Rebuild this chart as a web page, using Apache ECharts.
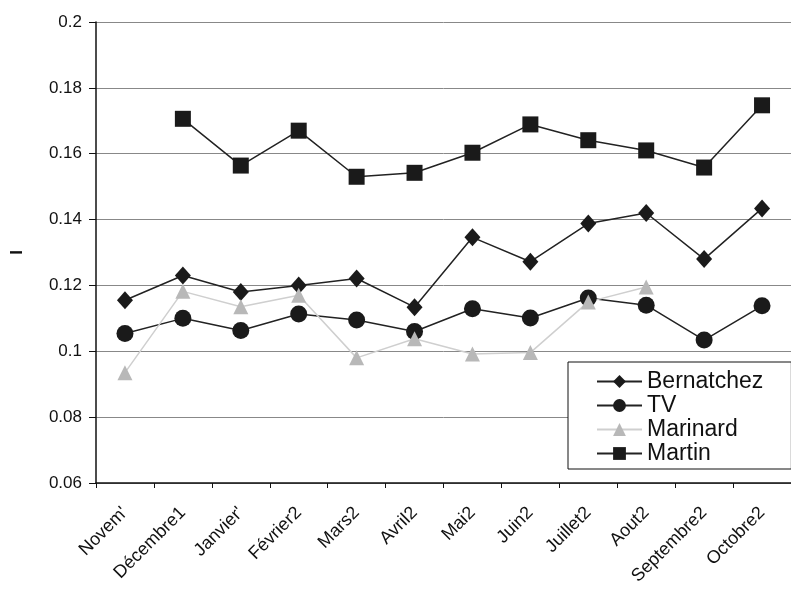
<!DOCTYPE html>
<html>
<head>
<meta charset="utf-8">
<script src="https://cdn.jsdelivr.net/npm/echarts@6/dist/echarts.min.js"></script>
<style>html,body{margin:0;padding:0;background:#fff}#c{width:791px;height:590px}</style>
</head>
<body>
<div id="c"></div>
<script>
var categories = ["Novem'", "Décembre1", "Janvier'", "Février2", "Mars2", "Avril2", "Mai2", "Juin2", "Juillet2", "Aout2", "Septembre2", "Octobre2"];
var bernatchez = [0.1155, 0.1230, 0.1180, 0.1200, 0.1221, 0.1134, 0.1346, 0.1272, 0.1388, 0.1420, 0.1280, 0.1434];
var tv = [0.1054, 0.1100, 0.1063, 0.1113, 0.1095, 0.1060, 0.1129, 0.1101, 0.1162, 0.1140, 0.1034, 0.1138];
var marinard = [0.0935, 0.1182, 0.1135, 0.1170, 0.0980, 0.1038, 0.0992, 0.0996, 0.1150, 0.1195, null, null];
var martin = [null, 0.1706, 0.1564, 0.1670, 0.1530, 0.1542, 0.1603, 0.1689, 0.1641, 0.1610, 0.1558, 0.1747];
var yTicks = {min: 0.06, max: 0.2, step: 0.02};

var chart = echarts.init(document.getElementById('c'), null, {renderer: 'canvas'});
var font = 'Liberation Sans, Arial, sans-serif';
function s(name, data, symbol, size, lineColor, symColor) {
  return {
    name: name, type: 'line', data: data, symbol: symbol, symbolSize: size,
    showAllSymbol: true, connectNulls: false,
    lineStyle: {color: lineColor, width: 1.5},
    itemStyle: {color: symColor, borderWidth: 0},
    emphasis: {disabled: true}, animation: false
  };
}
chart.setOption({
  animation: false,
  backgroundColor: '#fff',
  grid: {left: 96, top: 22, bottom: 107, right: -9, containLabel: false},
  xAxis: {
    type: 'category', data: categories, boundaryGap: true,
    axisLine: {lineStyle: {color: '#111', width: 1.5}},
    axisTick: {show: true, length: 5, lineStyle: {color: '#111'}},
    axisLabel: {rotate: 45, fontSize: 18, color: '#111', fontFamily: font, margin: 27, interval: 0},
    splitLine: {show: false}
  },
  yAxis: {
    type: 'value', min: yTicks.min, max: yTicks.max, interval: yTicks.step,
    name: 'I', nameLocation: 'middle', nameGap: 70, nameRotate: 90,
    nameTextStyle: {fontSize: 17, fontWeight: 'bold', color: '#111', fontFamily: font},
    axisLine: {show: true, lineStyle: {color: '#111', width: 1.5}},
    axisTick: {show: true, length: 7, lineStyle: {color: '#111'}},
    axisLabel: {fontSize: 17, color: '#111', fontFamily: font, margin: 14,
      formatter: function (v) { return String(parseFloat(v.toFixed(4))); }},
    splitLine: {show: true, lineStyle: {color: '#888', width: 1}}
  },
  legend: {
    orient: 'vertical', left: 568, top: 362,
    backgroundColor: '#fff', borderColor: '#111', borderWidth: 1,
    padding: [8, 28, 4, 28], itemGap: 1, itemWidth: 45, itemHeight: 16, itemTextGap: 6,
    textStyle: {fontSize: 23, lineHeight: 23, color: '#111', fontFamily: font},
    data: ['Bernatchez', 'TV', 'Marinard', 'Martin']
  },
  series: [
    s('Bernatchez', bernatchez, 'diamond', [16, 18], '#222', '#1a1a1a'),
    s('TV', tv, 'circle', 17, '#222', '#1a1a1a'),
    s('Marinard', marinard, 'triangle', 15, '#cfcfcf', '#b8b8b8'),
    s('Martin', martin, 'rect', 16, '#222', '#1a1a1a')
  ]
});
</script>
</body>
</html>
